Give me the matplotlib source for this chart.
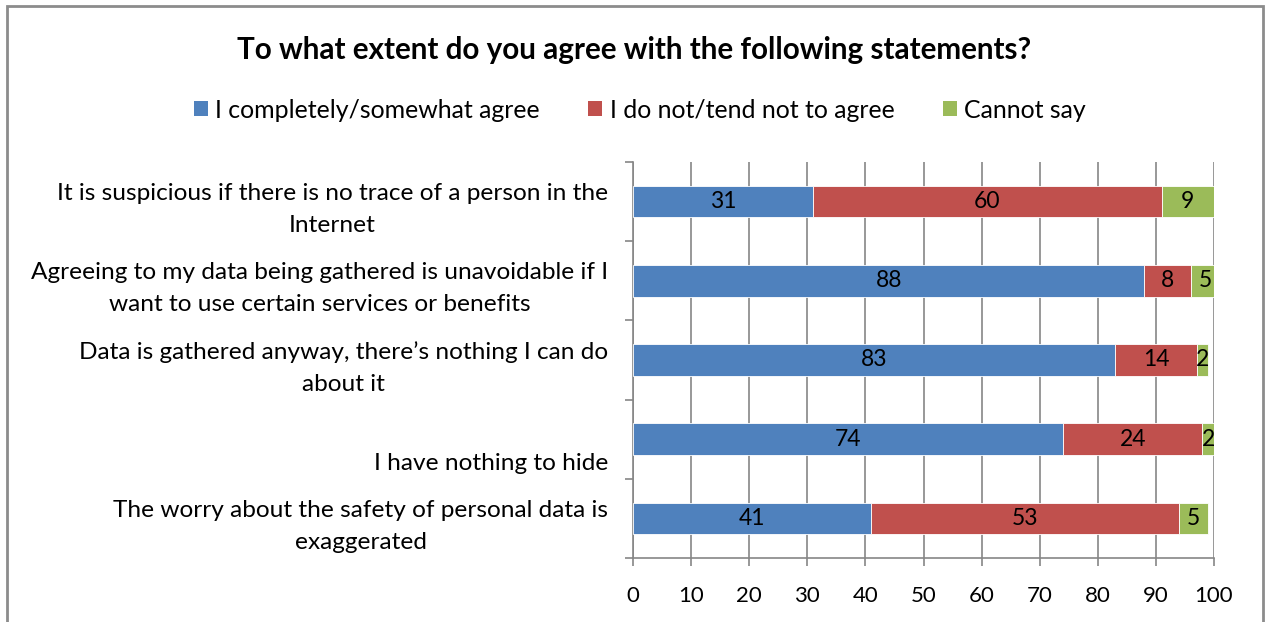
import matplotlib
matplotlib.use("Agg")
import matplotlib.pyplot as plt
from matplotlib.patches import Rectangle, Patch
from matplotlib.transforms import blended_transform_factory, ScaledTranslation

plt.rcParams['font.family'] = ['Lato', 'DejaVu Sans']

statements = [
    "It is suspicious if there is no trace of a person in the\nInternet",
    "Agreeing to my data being gathered is unavoidable if I\nwant to use certain services or benefits",
    "Data is gathered anyway, there\u2019s nothing I can do\nabout it",
    "\nI have nothing to hide",
    "The worry about the safety of personal data is\nexaggerated",
]
agree = [31, 88, 83, 74, 41]
disagree = [60, 8, 14, 24, 53]
cannot_say = [9, 5, 2, 2, 5]

series_names = ["I completely/somewhat agree", "I do not/tend not to agree", "Cannot say"]
colors = ["#4F81BD", "#C0504D", "#9BBB59"]
x_ticks = list(range(0, 101, 10))

W, H = 1267, 622
fig = plt.figure(figsize=(W / 100, H / 100), dpi=100)
ax = fig.add_axes([633 / W, 1 - 558 / H, (1214 - 633) / W, (558 - 162) / H])

n = len(statements)
ypos = list(range(n))
left = [0] * n
for vals, color in zip([agree, disagree, cannot_say], colors):
    ax.barh(ypos, vals, left=left, height=0.4, color=color,
            edgecolor="white", linewidth=0.6, zorder=3)
    for y, l, v in zip(ypos, left, vals):
        ax.text(l + v / 2, y, str(v), ha="center", va="center",
                fontsize=16.5, color="black", zorder=4)
    left = [a + b for a, b in zip(left, vals)]

ax.set_xlim(0, 100)
ax.set_ylim(n - 0.5, -0.5)
ax.set_xticks(x_ticks)
ax.set_xticklabels([str(t) for t in x_ticks], fontsize=16)
ax.tick_params(axis="x", length=6, width=1.2, color="#868686", pad=14.5)

ax.set_yticks([])
ax.set_yticks([i - 0.5 for i in range(n + 1)], minor=True)
ax.tick_params(axis="y", which="minor", length=6, width=1.2, color="#868686")

ax.grid(axis="x", color="#868686", linewidth=1.2, zorder=0)
for side in ("top", "right"):
    ax.spines[side].set_visible(False)
for side in ("left", "bottom"):
    ax.spines[side].set_color("#868686")
    ax.spines[side].set_linewidth(1.2)

# category labels, right-aligned with centred lines
trans = blended_transform_factory(ax.transAxes, ax.transData) + \
    ScaledTranslation(0, -8 / 100, fig.dpi_scale_trans)
for y, label in zip(ypos, statements):
    ax.text(-25 / (1214 - 633), y, label, transform=trans, ha="right",
            va="center", multialignment="center", fontsize=17.6,
            linespacing=1.65)

fig.text(634 / W, 1 - 50 / H, "To what extent do you agree with the following statements?",
         ha="center", va="center", fontsize=21.3, fontweight="bold")

handles = [Patch(facecolor=c, edgecolor="none") for c in colors]
fig.legend(handles, series_names, loc="center", bbox_to_anchor=(640 / W, 1 - 110 / H),
           ncol=3, frameon=False, fontsize=17.9, handlelength=0.56, handleheight=0.56,
           handletextpad=0.3, columnspacing=1.95)

fig.patches.append(Rectangle((7 / W, -0.05), (1263 - 7) / W, 1.05 - 6 / H,
                             transform=fig.transFigure, fill=False,
                             edgecolor="#8c8c8c", linewidth=2))

fig.savefig("out.png", dpi=100)
